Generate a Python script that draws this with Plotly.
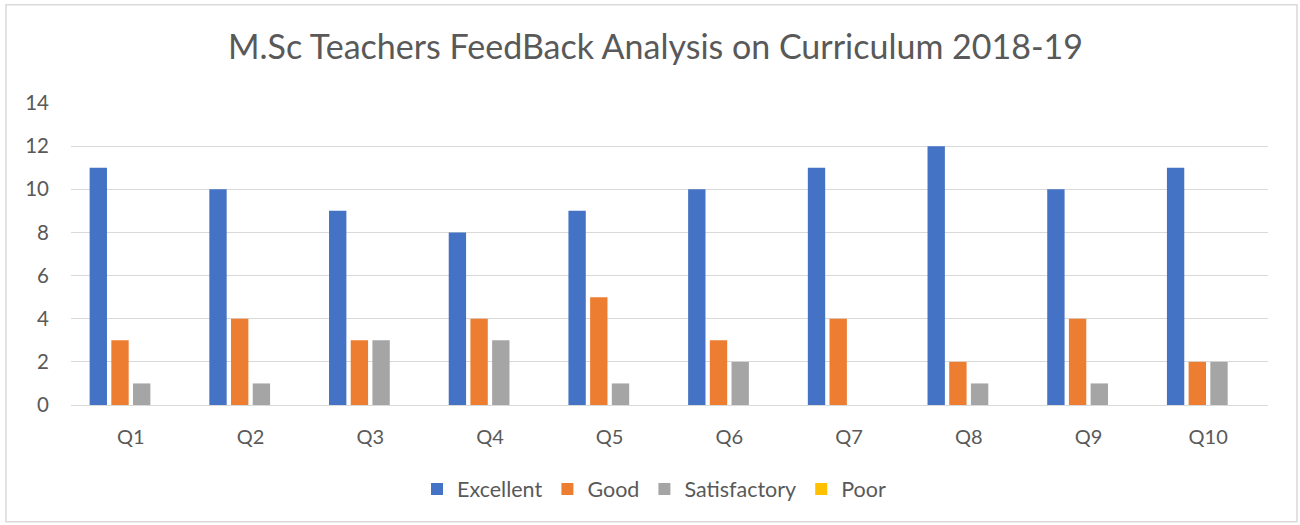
import plotly.graph_objects as go

categories = ["Q1", "Q2", "Q3", "Q4", "Q5", "Q6", "Q7", "Q8", "Q9", "Q10"]
excellent = [11, 10, 9, 8, 9, 10, 11, 12, 10, 11]
good = [3, 4, 3, 4, 5, 3, 4, 2, 4, 2]
satisfactory = [1, 1, 3, 3, 1, 2, 0, 1, 1, 2]
poor = [0, 0, 0, 0, 0, 0, 0, 0, 0, 0]
y_ticks = [0, 2, 4, 6, 8, 10, 12, 14]

series = [
    ("Excellent", excellent, "#4472C4"),
    ("Good", good, "#ED7D31"),
    ("Satisfactory", satisfactory, "#A5A5A5"),
    ("Poor", poor, "#FFC000"),
]

FONT = "Lato, Carlito, Calibri, sans-serif"
TXT = "#595959"
GRID = "#D9D9D9"

fig = go.Figure()
for name, vals, col in series:
    fig.add_trace(go.Bar(x=categories, y=vals, name=name,
                         marker=dict(color=col, line=dict(width=0))))

W, H = 1300, 525
L, R, T, B = 71, 32, 102.5, 120
pw = W - L - R
ph = H - T - B

def px_x(v):
    return (v - L) / pw

def px_y(v):
    return (H - B - v) / ph

fig.update_layout(
    width=W, height=H,
    margin=dict(l=L, r=R, t=T, b=B),
    paper_bgcolor="white", plot_bgcolor="white",
    font=dict(family=FONT, color=TXT, size=20),
    title=dict(text="M.Sc Teachers FeedBack Analysis on Curriculum 2018-19",
               x=655.5 / W, xref="container", xanchor="center",
               y=1 - 47 / H, yref="container", yanchor="middle",
               font=dict(family=FONT, size=34, color=TXT)),
    barmode="group", bargap=0.275, bargroupgap=0.2,
    showlegend=True,
    legend=dict(orientation="h", xref="container", yref="container",
                x=654 / W, xanchor="center", y=1 - 489 / H, yanchor="middle",
                font=dict(family=FONT, size=21.5, color=TXT),
                itemwidth=30, traceorder="normal"),
    xaxis=dict(showgrid=False, showline=True, linecolor=GRID, linewidth=1,
               ticks="", tickfont=dict(size=20, color=TXT),
               ticklabelstandoff=14),
    yaxis=dict(range=[0, 14], tickvals=y_ticks, showgrid=True, gridcolor=GRID,
               gridwidth=1, zeroline=False, showline=False, ticks="",
               tickfont=dict(size=20.5, color=TXT), ticklabelstandoff=21),
    shapes=[dict(type="rect", xref="paper", yref="paper",
                 x0=px_x(6), x1=px_x(1297), y0=px_y(522), y1=px_y(4),
                 line=dict(color=GRID, width=1.5), fillcolor="rgba(0,0,0,0)",
                 layer="below")],
)

fig.write_html("out.html", config={"displayModeBar": False},
               post_script="document.body.style.margin='0';document.body.style.overflow='hidden';")
